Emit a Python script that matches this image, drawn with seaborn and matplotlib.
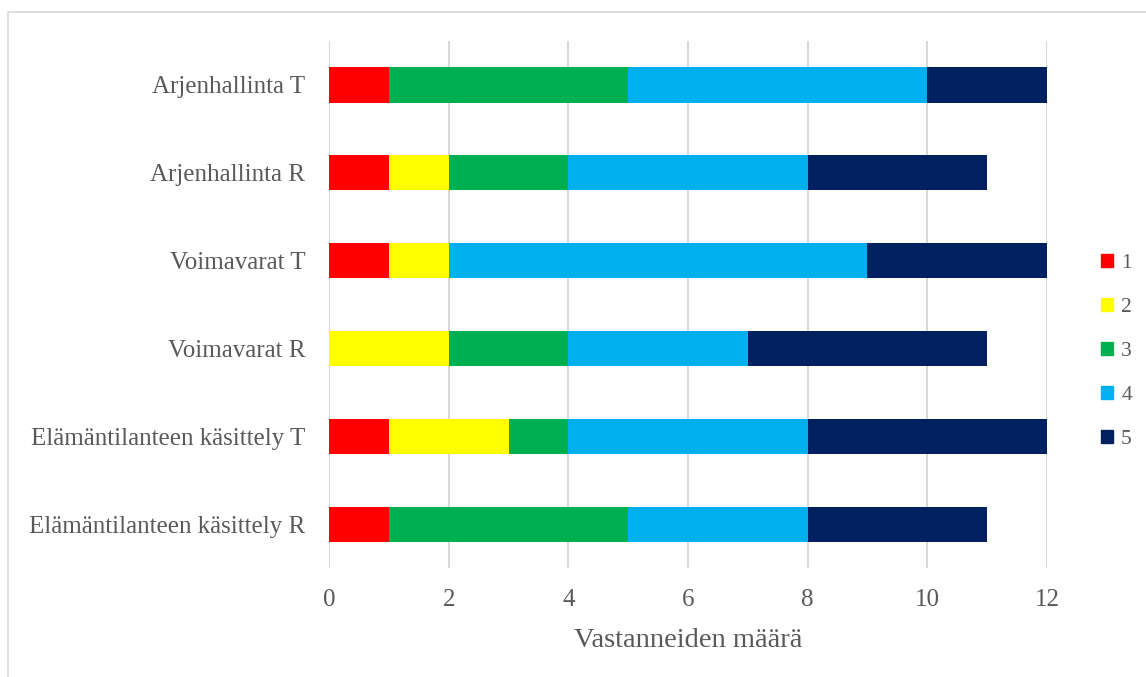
import matplotlib
matplotlib.use("Agg")
import matplotlib.pyplot as plt
import seaborn as sns
import pandas as pd
import numpy as np
from matplotlib.patches import Patch, Rectangle

categories = ["Arjenhallinta T", "Arjenhallinta R", "Voimavarat T", "Voimavarat R",
              "Elämäntilanteen käsittely T", "Elämäntilanteen käsittely R"]
levels = ["1", "2", "3", "4", "5"]
v1 = [1, 1, 1, 0, 1, 1]
v2 = [0, 1, 1, 2, 2, 0]
v3 = [4, 2, 0, 2, 1, 4]
v4 = [5, 4, 7, 3, 4, 3]
v5 = [2, 3, 3, 4, 4, 3]
colors = ["#FF0000", "#FFFF00", "#00B050", "#00B0F0", "#002060"]
xlabel = "Vastanneiden määrä"

sns.set_theme(style="white")
plt.rcParams['font.family'] = ['Liberation Serif', 'DejaVu Serif']
textcol = "#595959"

series = [v1, v2, v3, v4, v5]
cum = np.cumsum(np.array(series), axis=0)

fig = plt.figure(figsize=(11.46, 6.77), dpi=100)
ax = fig.add_axes([0.2871, 0.161, 0.6265, 0.7784])

for i in range(len(levels) - 1, -1, -1):
    df = pd.DataFrame({"cat": categories, "val": cum[i]})
    sns.barplot(data=df, x="val", y="cat", ax=ax, color=colors[i], orient="h",
                width=0.4, saturation=1, linewidth=0, zorder=3)

ax.set_xlim(0, 12)
ax.set_ylim(5.5, -0.5)
ax.set_xticks(range(0, 13, 2))
ax.grid(axis="x", color="#D9D9D9", linewidth=1.5, zorder=0)
ax.grid(axis="y", visible=False)
for s in ax.spines.values():
    s.set_visible(False)
ax.tick_params(axis="both", length=0, labelsize=18, colors=textcol)
ax.tick_params(axis="y", pad=17)
ax.tick_params(axis="x", pad=15)
ax.set_ylabel("")
ax.set_xlabel(xlabel, fontsize=20.5, color=textcol, labelpad=12)

handles = [Patch(facecolor=c, edgecolor=c, label=l) for c, l in zip(colors, levels)]
leg = fig.legend(handles=handles, loc="upper left", bbox_to_anchor=(0.9605, 0.625),
                 frameon=False, fontsize=15.5, handlelength=0.55, handleheight=0.55,
                 handletextpad=0.4, labelspacing=1.16, borderaxespad=0, borderpad=0)
for t in leg.get_texts():
    t.set_color(textcol)

fig.patches.append(Rectangle((8 / 1146, -0.1), 1.2, 1 - 12 / 677 + 0.1,
                             transform=fig.transFigure, fill=False,
                             edgecolor="#D9D9D9", linewidth=1.2))

fig.savefig("out.png", dpi=100)
